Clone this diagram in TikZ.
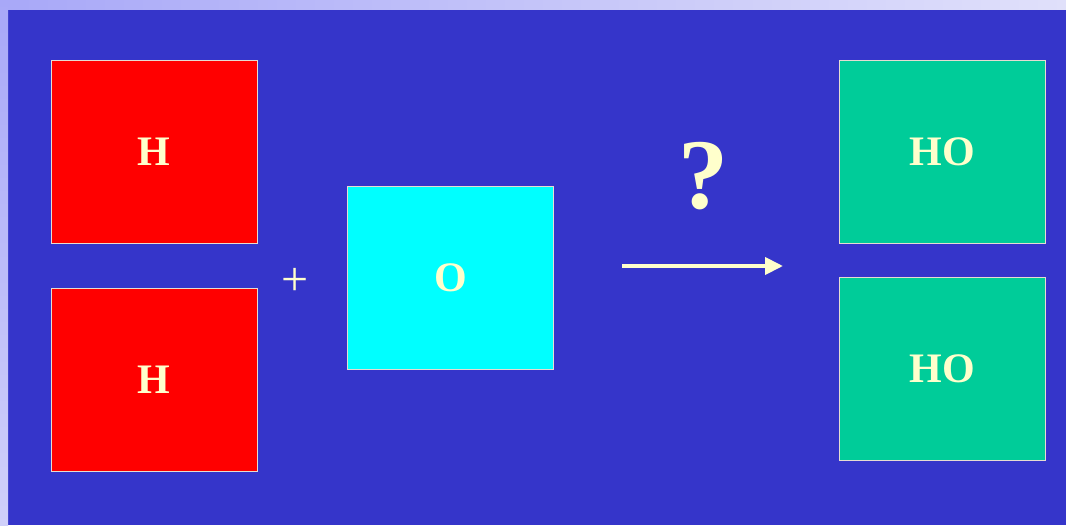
\documentclass[tikz,border=0pt]{standalone}
\usepackage{fontspec}
\setmainfont{Liberation Serif}
\usetikzlibrary{arrows.meta}
\definecolor{bgblue}{RGB}{53,53,202}
\definecolor{stripA}{RGB}{168,168,248}
\definecolor{stripB}{RGB}{224,224,250}
\definecolor{stripC}{RGB}{208,208,250}
\definecolor{hred}{RGB}{255,0,0}
\definecolor{ocyan}{RGB}{0,255,255}
\definecolor{hogreen}{RGB}{0,204,153}
\definecolor{txtyellow}{RGB}{255,255,204}
\definecolor{edgecol}{RGB}{230,220,210}
\tikzset{
  atombox/.style={draw=edgecol, line width=1pt, minimum width=206pt, minimum height=183pt, inner sep=0pt,
    font=\fontsize{42}{50}\selectfont\bfseries, text=txtyellow},
  plainlabel/.style={text=txtyellow, inner sep=0pt}
}
\begin{document}
\begin{tikzpicture}[x=1pt,y=-1pt]
\useasboundingbox (0,0) rectangle (1066,525);
\fill[bgblue] (0,0) rectangle (1066,525);
\shade[left color=stripA, right color=stripB] (0,0) rectangle (1066,9);
\shade[top color=stripA, bottom color=stripC] (0,0) rectangle (8,525);
\node[atombox, fill=hred] (h1) at (154,151.5) {H};
\node[atombox, fill=hred] (h2) at (154,380) {H};
\node[atombox, fill=ocyan] (o) at (450.5,277.5) {O};
\node[atombox, fill=hogreen] (ho1) at (942,151.5) {HO};
\node[atombox, fill=hogreen] (ho2) at (942,368.5) {HO};
\node[plainlabel, font=\fontsize{48}{50}\selectfont] (plus) at (295,282) {+};
\node[plainlabel, font=\fontsize{100}{110}\selectfont\bfseries] (q) at (703,176) {?};
\coordinate (a1) at (622,266);
\coordinate (a2) at (783,266);
\draw[txtyellow, line width=4pt, -{Triangle[length=18pt,width=17pt]}] (a1) -- (a2);
\end{tikzpicture}
\end{document}
